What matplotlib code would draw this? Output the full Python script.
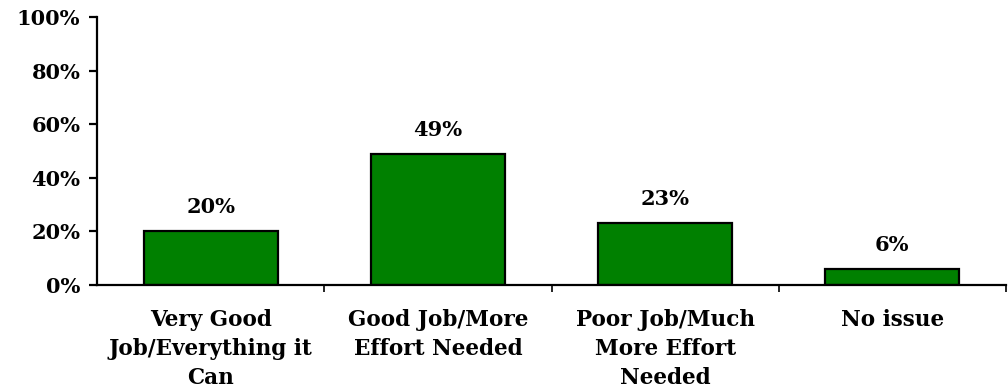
import matplotlib.pyplot as plt
from matplotlib.ticker import FixedLocator

# Survey answers and share of respondents
categories = ["Very Good\nJob/Everything it\nCan", "Good Job/More\nEffort Needed",
              "Poor Job/Much\nMore Effort\nNeeded", "No issue"]
values = [20, 49, 23, 6]
yticks = [0, 20, 40, 60, 80, 100]

plt.rcParams["font.family"] = ["DejaVu Serif"]
plt.rcParams["font.weight"] = "bold"

fig = plt.figure(figsize=(10.08, 3.88), dpi=100)
ax = fig.add_axes([97 / 1008, 1 - 285 / 388, 909 / 1008, 268 / 388])

x = range(len(values))
ax.bar(x, values, width=0.59, color="#008000", edgecolor="black", linewidth=1.6)

for i, v in enumerate(values):
    ax.text(i, v + 9, f"{v}%", ha="center", va="center", fontsize=15, fontweight="bold")

ax.set_xlim(-0.5, len(values) - 0.5)
ax.set_ylim(0, 100)
ax.set_yticks(yticks)
ax.set_yticklabels([f"{t}%" for t in yticks], fontsize=15, fontweight="bold")

# category labels sit between the boundary ticks
ax.set_xticks(list(x))
ax.set_xticklabels(categories, fontsize=15.5, fontweight="bold", linespacing=1.42)
ax.tick_params(axis="x", which="major", length=0, pad=17)
ax.xaxis.set_minor_locator(FixedLocator([0.5, 1.5, 2.5, 3.5]))
ax.tick_params(axis="x", which="minor", direction="out", length=5, width=1.2)
ax.tick_params(axis="y", direction="out", length=6, width=1.6, pad=6)

for side in ["top", "right"]:
    ax.spines[side].set_visible(False)
ax.spines["left"].set_linewidth(1.6)
ax.spines["bottom"].set_linewidth(1.6)

fig.savefig("out.png", dpi=100)
